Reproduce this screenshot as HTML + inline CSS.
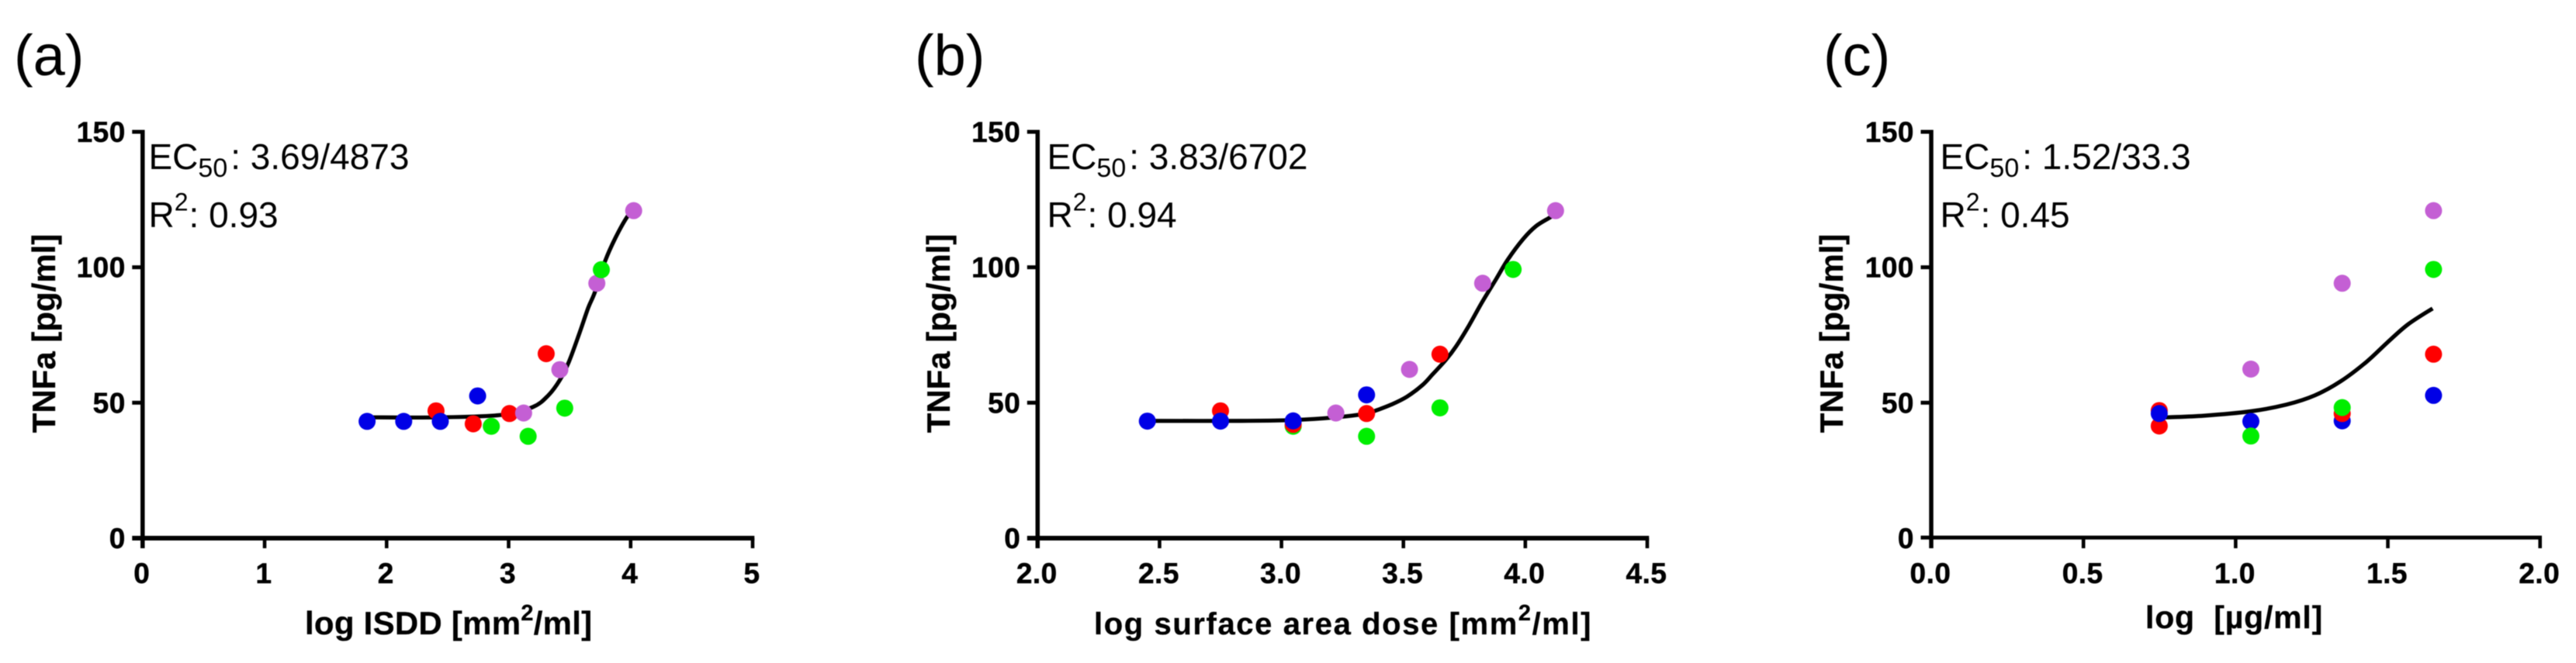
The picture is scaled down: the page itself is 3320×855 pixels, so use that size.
<!DOCTYPE html>
<html lang="en">
<head>
<meta charset="utf-8">
<title>TNFa dose response</title>
<style>
html,body{margin:0;padding:0;background:#fff;}
svg{display:block;filter:blur(0.6px);}
text{font-family:"Liberation Sans",sans-serif;fill:#000;}
.tick{font-weight:700;font-size:37px;letter-spacing:0.5px;stroke:#000;stroke-width:0.5px;}
.title{font-weight:700;white-space:pre;stroke:#000;stroke-width:0.3px;}
.note{font-size:46px;}
.sub{font-size:34px;}
.sup{font-size:32px;}
.panel{font-size:74px;}
</style>
</head>
<body>
<svg id="figure" xmlns="http://www.w3.org/2000/svg" width="3320" height="855" viewBox="0 0 3320 855">
  <rect x="0" y="0" width="3320" height="855" fill="#fff"/>

  <text class="panel" x="18" y="97">(a)</text>
  <text class="panel" x="1179" y="97">(b)</text>
  <text class="panel" x="2350" y="97">(c)</text>

  <text class="title" font-size="42" text-anchor="middle" transform="translate(71 430) rotate(-90)">TNFa [pg/ml]</text>
  <text class="title" font-size="42" text-anchor="middle" transform="translate(1224 430) rotate(-90)">TNFa [pg/ml]</text>
  <text class="title" font-size="42" text-anchor="middle" transform="translate(2375 430) rotate(-90)">TNFa [pg/ml]</text>

  <text class="title" font-size="42" letter-spacing="0.25" x="393" y="818">log ISDD [mm<tspan font-size="29" dy="-18">2</tspan><tspan dy="18">/ml]</tspan></text>
  <text class="title" font-size="40" letter-spacing="1.6" x="1410" y="818">log surface area dose [mm<tspan font-size="29" dy="-18">2</tspan><tspan dy="18">/ml]</tspan></text>
  <text class="title" font-size="41" letter-spacing="0.8" x="2765" y="810">log  [µg/ml]</text>

  <text class="note" x="191.5" y="218">EC<tspan class="sub" dy="10">50</tspan><tspan dy="-10" dx="4">: 3.69/4873</tspan></text>
  <text class="note" x="191.5" y="293">R<tspan class="sup" dy="-21.5">2</tspan><tspan dy="21.5" dx="1">: 0.93</tspan></text>
  <text class="note" x="1349.5" y="218">EC<tspan class="sub" dy="10">50</tspan><tspan dy="-10" dx="4">: 3.83/6702</tspan></text>
  <text class="note" x="1349.5" y="293">R<tspan class="sup" dy="-21.5">2</tspan><tspan dy="21.5" dx="1">: 0.94</tspan></text>
  <text class="note" x="2500.5" y="218">EC<tspan class="sub" dy="10">50</tspan><tspan dy="-10" dx="4">: 1.52/33.3</tspan></text>
  <text class="note" x="2500.5" y="293">R<tspan class="sup" dy="-21.5">2</tspan><tspan dy="21.5" dx="1">: 0.45</tspan></text>
</svg>
<script>
/* shared axis data */
const yTicks = [0, 50, 100, 150];
const yTickLabels = ['0', '50', '100', '150'];

/* panel (a) */
const aXTicks = [0, 1, 2, 3, 4, 5];
const aXTickLabels = ['0', '1', '2', '3', '4', '5'];
const aBlueX = [1.84, 2.14, 2.44, 2.746];
const aBlueY = [43.1, 43.1, 43.1, 52.5];
const aRedX = [2.405, 2.71, 3.007, 3.308];
const aRedY = [47, 42.2, 46, 68.1];
const aPurpleX = [3.123, 3.42, 3.723, 4.025];
const aPurpleY = [46.2, 62.2, 94.1, 120.9];
const aGreenX = [2.858, 3.16, 3.46, 3.76];
const aGreenY = [41.3, 37.6, 48, 99.1];
const aCurveX = [1.84, 2.434, 2.943, 3.198, 3.325, 3.42, 3.494, 3.58, 3.653, 3.707, 3.791, 3.876, 3.97, 4.025];
const aCurveY = [44.6, 44.6, 45.5, 48.4, 52.7, 58.4, 65.1, 75.6, 85.1, 90.8, 102.3, 110.9, 118.5, 121];

/* panel (b) */
const bXTicks = [2.0, 2.5, 3.0, 3.5, 4.0, 4.5];
const bXTickLabels = ['2.0', '2.5', '3.0', '3.5', '4.0', '4.5'];
const bGreenX = [3.048, 3.349, 3.65, 3.95];
const bGreenY = [41.3, 37.6, 48.1, 99.2];
const bRedX = [2.75, 3.048, 3.349, 3.65];
const bRedY = [47, 42, 46, 67.9];
const bBlueX = [2.45, 2.75, 3.048, 3.349];
const bBlueY = [43.2, 43.2, 43.3, 52.9];
const bPurpleX = [3.223, 3.525, 3.825, 4.124];
const bPurpleY = [46.2, 62.3, 94.1, 120.9];
const bCurveX = [2.45, 2.836, 3.048, 3.223, 3.349, 3.387, 3.45, 3.514, 3.578, 3.62, 3.674, 3.716, 3.769, 3.822, 3.88, 3.928, 3.991, 4.044, 4.103, 4.124];
const bCurveY = [43.3, 43.3, 43.6, 44.6, 46, 47.1, 49.3, 52.2, 56.5, 60.5, 65.8, 70.8, 78.5, 87, 95.6, 102.8, 110.4, 115.2, 118.5, 120];

/* panel (c) */
const cXTicks = [0.0, 0.5, 1.0, 1.5, 2.0];
const cXTickLabels = ['0.0', '0.5', '1.0', '1.5', '2.0'];
const cPurpleX = [1.05, 1.35, 1.65];
const cPurpleY = [62.4, 94.1, 120.9];
const cBlueLowerX = [1.35];
const cBlueLowerY = [43.3];
const cRedX = [0.749, 0.749, 1.35, 1.65];
const cRedY = [47.1, 41.4, 46, 67.9];
const cBlueUpperX = [0.749, 1.05, 1.65];
const cBlueUpperY = [46, 43.1, 52.7];
const cGreenX = [1.05, 1.35, 1.65];
const cGreenY = [37.7, 48.2, 99.2];
const cCurveX = [0.75, 0.776, 0.895, 1.048, 1.167, 1.26, 1.345, 1.43, 1.498, 1.566, 1.647];
const cCurveY = [44.4, 44.6, 45.2, 46.8, 49.3, 52.7, 57.9, 65.1, 72.2, 78.9, 84.8];

const BLUE = '#0000e6';
const RED = '#ff0000';
const GREEN = '#00ee00';
const PURPLE = '#c45fd4';
const SVG_NS = 'http://www.w3.org/2000/svg';
const figure = document.getElementById('figure');

function svgEl(tag, attrs, parent) {
  const el = document.createElementNS(SVG_NS, tag);
  for (const k in attrs) el.setAttribute(k, attrs[k]);
  parent.appendChild(el);
  return el;
}

function linear(d0, d1, r0, r1) {
  return function (v) { return r0 + (v - d0) * (r1 - r0) / (d1 - d0); };
}

function curvePath(xs, ys, sx, sy) {
  const p = xs.map(function (x, i) { return [sx(x), sy(ys[i])]; });
  let d = 'M' + p[0][0].toFixed(2) + ' ' + p[0][1].toFixed(2);
  for (let i = 0; i < p.length - 1; i++) {
    const a = p[Math.max(i - 1, 0)], b = p[i], c = p[i + 1], e = p[Math.min(i + 2, p.length - 1)];
    const c1x = b[0] + (c[0] - a[0]) / 6, c1y = b[1] + (c[1] - a[1]) / 6;
    const c2x = c[0] - (e[0] - b[0]) / 6, c2y = c[1] - (e[1] - b[1]) / 6;
    d += 'C' + c1x.toFixed(2) + ' ' + c1y.toFixed(2) + ' ' + c2x.toFixed(2) + ' ' + c2y.toFixed(2) + ' ' + c[0].toFixed(2) + ' ' + c[1].toFixed(2);
  }
  return d;
}

function drawPanel(cfg) {
  const g = svgEl('g', {}, figure);
  
  

  const yBase = cfg.yBase;
  const sx = linear(cfg.xMin, cfg.xMax, cfg.x0, cfg.x1);
  const sy = linear(0, 150, 694, 170);
  const w = cfg.axisWidth;

  /* axes */
  const yAxis = svgEl('line', { x1: cfg.x0, x2: cfg.x0, y1: 167.5, y2: 707, stroke: '#000', 'stroke-width': 5.5 }, g);
  
  
  const xAxis = svgEl('line', { x1: cfg.x0 - 13.5, x2: cfg.x1 + 2.3, y1: yBase, y2: yBase, stroke: '#000', 'stroke-width': w }, g);
  
  

  yTicks.forEach(function (v, i) {
    const y = sy(v);
    if (v !== 0) {
      const t = svgEl('line', { x1: cfg.x0 - 13.5, x2: cfg.x0, y1: y, y2: y, stroke: '#000', 'stroke-width': 5 }, g);
      
      
    }
    const label = svgEl('text', { x: cfg.x0 - 22, y: y + 13, 'text-anchor': 'end', class: 'tick' }, g);
    label.textContent = yTickLabels[i];
    
    
  });

  cfg.xTicks.forEach(function (v, i) {
    const x = sx(v);
    if (i !== 0) {
      const t = svgEl('line', { x1: x, x2: x, y1: yBase, y2: 707, stroke: '#000', 'stroke-width': 4.6 }, g);
      
      
    }
    const label = svgEl('text', { x: x - 1, y: 752, 'text-anchor': 'middle', class: 'tick' }, g);
    label.textContent = cfg.xLabels[i];
    
    
  });

  /* fit curve under the markers */
  const curve = svgEl('path', { d: curvePath(cfg.curveX, cfg.curveY, sx, sy), fill: 'none', stroke: '#000', 'stroke-width': 5.2, 'stroke-linecap': 'butt' }, g);
  
  

  /* markers, in paint order */
  cfg.series.forEach(function (s) {
    s.x.forEach(function (xv, i) {
      const dot = svgEl('circle', { cx: sx(xv), cy: sy(s.y[i]), r: 11, fill: s.color }, g);
      
      
    });
  });
}

drawPanel({
  id: 'a', x0: 183.8, x1: 970, xMin: 0, xMax: 5, yBase: 694, axisWidth: 6,
  xTicks: aXTicks, xLabels: aXTickLabels, curveX: aCurveX, curveY: aCurveY,
  series: [
    { name: 'red', color: RED, x: aRedX, y: aRedY },
    { name: 'blue', color: BLUE, x: aBlueX, y: aBlueY },
    { name: 'purple', color: PURPLE, x: aPurpleX, y: aPurpleY },
    { name: 'green', color: GREEN, x: aGreenX, y: aGreenY }
  ]
});

drawPanel({
  id: 'b', x0: 1337.3, x1: 2123, xMin: 2, xMax: 4.5, yBase: 694, axisWidth: 6,
  xTicks: bXTicks, xLabels: bXTickLabels, curveX: bCurveX, curveY: bCurveY,
  series: [
    { name: 'green', color: GREEN, x: bGreenX, y: bGreenY },
    { name: 'red', color: RED, x: bRedX, y: bRedY },
    { name: 'blue', color: BLUE, x: bBlueX, y: bBlueY },
    { name: 'purple', color: PURPLE, x: bPurpleX, y: bPurpleY }
  ]
});

drawPanel({
  id: 'c', x0: 2489, x1: 3273.7, xMin: 0, xMax: 2, yBase: 693.3, axisWidth: 5,
  xTicks: cXTicks, xLabels: cXTickLabels, curveX: cCurveX, curveY: cCurveY,
  series: [
    { name: 'purple', color: PURPLE, x: cPurpleX, y: cPurpleY },
    { name: 'blue', color: BLUE, x: cBlueLowerX, y: cBlueLowerY },
    { name: 'red', color: RED, x: cRedX, y: cRedY },
    { name: 'blue', color: BLUE, x: cBlueUpperX, y: cBlueUpperY },
    { name: 'green', color: GREEN, x: cGreenX, y: cGreenY }
  ]
});
</script>
</body>
</html>
